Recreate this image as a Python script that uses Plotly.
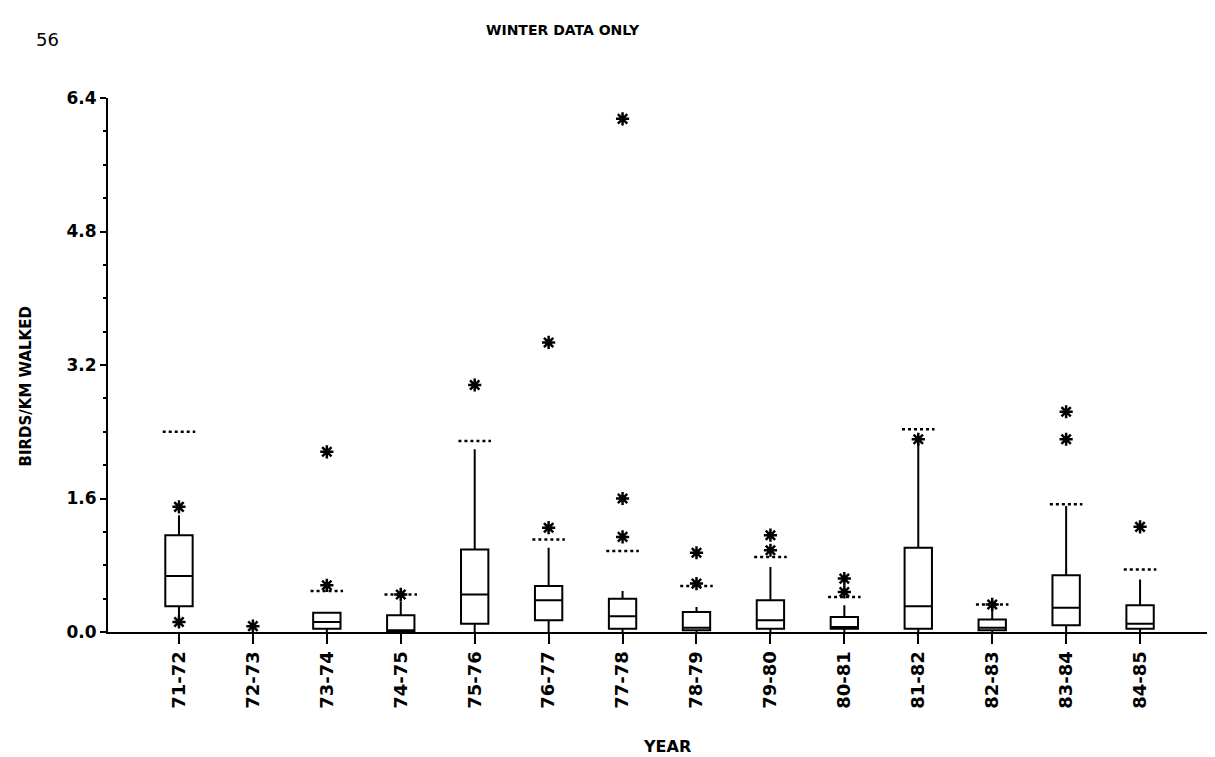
import plotly.graph_objects as go

# ---- data (birds per km walked, winter data only) ----
years = ["71-72", "72-73", "73-74", "74-75", "75-76", "76-77", "77-78",
         "78-79", "79-80", "80-81", "81-82", "82-83", "83-84", "84-85"]

# box statistics (None = no box drawn for that winter)
q1 =         [0.31, None, 0.04, 0.01, 0.10, 0.14, 0.04, 0.02, 0.04, 0.04, 0.04, 0.02, 0.08, 0.04]
median =     [0.67, None, 0.12, 0.02, 0.45, 0.38, 0.19, 0.05, 0.14, 0.06, 0.31, 0.05, 0.29, 0.10]
q3 =         [1.16, None, 0.23, 0.20, 0.99, 0.55, 0.40, 0.24, 0.38, 0.18, 1.01, 0.15, 0.68, 0.32]
whisk_lo =   [0.12, None, 0.00, 0.00, 0.00, 0.00, 0.00, 0.00, 0.00, 0.00, 0.00, 0.00, 0.00, 0.00]
whisk_hi =   [1.40, None, 0.23, 0.37, 2.19, 1.01, 0.49, 0.30, 0.78, 0.32, 2.30, 0.31, 1.51, 0.63]
# dotted upper fence level
fence =      [2.40, None, 0.49, 0.45, 2.29, 1.11, 0.97, 0.55, 0.90, 0.42, 2.43, 0.33, 1.53, 0.75]

# outliers (asterisks): (year, value)
out_year = ["71-72", "71-72", "72-73", "73-74", "73-74", "74-75", "75-76",
            "76-77", "76-77", "77-78", "77-78", "77-78", "78-79", "78-79",
            "79-80", "79-80", "80-81", "80-81", "81-82", "82-83", "83-84",
            "83-84", "84-85"]
out_val = [1.50, 0.12, 0.07, 0.56, 2.16, 0.45, 2.96,
           1.25, 3.47, 1.14, 1.60, 6.15, 0.58, 0.95,
           0.98, 1.16, 0.48, 0.64, 2.31, 0.33, 2.31,
           2.64, 1.26]

y_ticks = [0.0, 1.6, 3.2, 4.8, 6.4]

# ---- build figure ----
pos = {y: i + 1 for i, y in enumerate(years)}
idx = [i for i in range(len(years)) if q3[i] is not None]

fig = go.Figure()

fig.add_trace(go.Box(
    x=[pos[years[i]] for i in idx],
    q1=[q1[i] for i in idx],
    median=[median[i] for i in idx],
    q3=[q3[i] for i in idx],
    lowerfence=[whisk_lo[i] for i in idx],
    upperfence=[whisk_hi[i] for i in idx],
    width=0.37,
    whiskerwidth=0,
    fillcolor="white",
    line=dict(color="black", width=2),
    boxpoints=False,
    hoverinfo="skip",
    showlegend=False,
))

# dotted fence segments
fx, fy = [], []
for i in idx:
    p = pos[years[i]]
    fx += [p - 0.22, p + 0.22, None]
    fy += [fence[i], fence[i], None]
fig.add_trace(go.Scatter(
    x=fx, y=fy, mode="lines",
    line=dict(color="black", width=2.5, dash="dot"),
    hoverinfo="skip", showlegend=False, cliponaxis=False,
))

# asterisks
fig.add_trace(go.Scatter(
    x=[pos[y] for y in out_year], y=out_val, mode="markers",
    marker=dict(symbol="asterisk-open", size=11, color="black",
                line=dict(color="black", width=2.5)),
    hoverinfo="skip", showlegend=False, cliponaxis=False,
))

font_fam = "DejaVu Sans"

fig.update_layout(
    width=1215, height=757,
    margin=dict(l=100, r=9, t=90, b=133),
    paper_bgcolor="white", plot_bgcolor="white",
    font=dict(family=font_fam, color="black", size=13),
    xaxis=dict(
        range=[0.04, 15.0],
        tickmode="array",
        tickvals=[pos[y] for y in years],
        ticktext=["<b>%s</b>" % y for y in years],
        tickangle=-90,
        ticks="outside", ticklen=10, tickwidth=2, tickcolor="black",
        showline=True, linecolor="black", linewidth=2,
        showgrid=False, zeroline=False,
        tickfont=dict(size=18, family=font_fam),
    ),
    yaxis=dict(
        range=[0, 6.4],
        tickmode="array",
        tickvals=y_ticks,
        ticktext=["<b>%.1f</b>" % v for v in y_ticks],
        ticks="outside", ticklen=6, tickwidth=2, tickcolor="black",
        minor=dict(dtick=0.4, ticks="outside", ticklen=3, tickwidth=1.5, tickcolor="black"),
        showline=True, linecolor="black", linewidth=2,
        showgrid=False, zeroline=False,
        tickfont=dict(size=17, family=font_fam),
    ),
    annotations=[
        dict(text="56", xref="paper", yref="paper",
             x=-0.055, y=1.11, showarrow=False, font=dict(size=18, family=font_fam),
             xanchor="center", yanchor="middle"),
        dict(text="<b>WINTER DATA ONLY</b>", xref="paper", yref="paper",
             x=0.411, y=1.127, showarrow=False, font=dict(size=14, family=font_fam),
             xanchor="center", yanchor="middle"),
        dict(text="<b>YEAR</b>", xref="paper", yref="paper",
             x=0.505, y=-0.215, showarrow=False, font=dict(size=16, family=font_fam),
             xanchor="center", yanchor="middle"),
        dict(text="<b>BIRDS/KM WALKED</b>", xref="paper", yref="paper",
             x=-0.074, y=0.46, showarrow=False, textangle=-90,
             font=dict(size=15, family=font_fam),
             xanchor="center", yanchor="middle"),
    ],
)

fig.write_html("out.html")
